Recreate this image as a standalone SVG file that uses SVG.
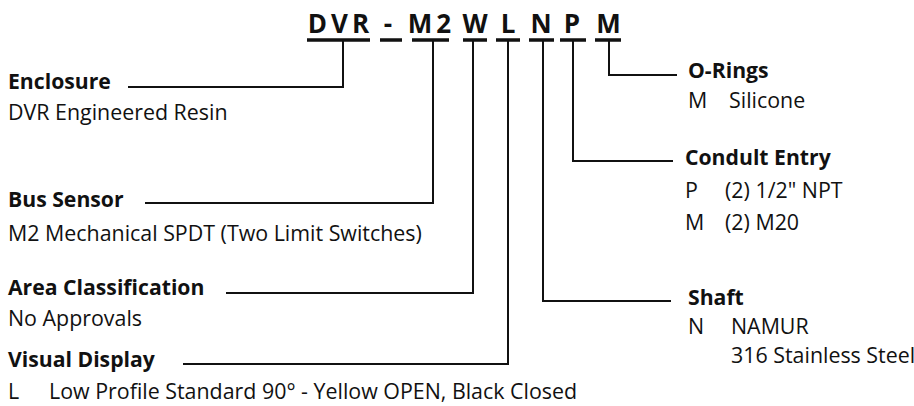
<svg xmlns="http://www.w3.org/2000/svg" width="914" height="406" viewBox="0 0 914 406">
<style>
text{font-family:"Open Sans","Noto Sans","DejaVu Sans",sans-serif;fill:#111;}
.code{font-size:26px;font-weight:700;text-anchor:middle;}
.h{font-size:21.2px;font-weight:700;}
.t{font-size:21.4px;}
.ul{stroke:#111;stroke-width:3.5;fill:none;}
.c{stroke:#111;stroke-width:2;fill:none;}
</style>
<rect width="914" height="406" fill="#fff"/>
<g id="code">
<text class="code" x="340.5" y="33" letter-spacing="4">DVR</text>
<text class="code" x="388" y="33">-</text>
<text class="code" x="431.5" y="33" letter-spacing="4">M2</text>
<text class="code" x="475" y="33">W</text>
<text class="code" x="508" y="33">L</text>
<text class="code" x="541" y="33">N</text>
<text class="code" x="572" y="33">P</text>
<text class="code" x="608.5" y="33">M</text>
<path class="ul" d="M307,40H370M380,40H402M412,40H449M463,40H487M496,40H520M529,40H554M560,40H586M595,40H621"/>
</g>
<g id="connectors">
<path class="c" d="M343,40V87H128"/>
<path class="c" d="M433,40V203H145"/>
<path class="c" d="M473,40V293H226"/>
<path class="c" d="M508,40V364H183"/>
<path class="c" d="M543,40V301H671"/>
<path class="c" d="M573,40V161H673"/>
<path class="c" d="M609,40V75H677"/>
</g>
<g id="enclosure">
<text class="h" x="8" y="89">Enclosure</text>
<text class="t" x="8" y="120">DVR Engineered Resin</text>
</g>
<g id="bus-sensor">
<text class="h" x="8" y="207">Bus Sensor</text>
<text class="t" x="8" y="241">M2 Mechanical SPDT (Two Limit Switches)</text>
</g>
<g id="area-classification">
<text class="h" x="8" y="295">Area Classification</text>
<text class="t" x="8" y="326">No Approvals</text>
</g>
<g id="visual-display">
<text class="h" x="8" y="367">Visual Display</text>
<text class="t" x="8" y="399">L</text>
<text class="t" x="49" y="399">Low Profile Standard 90° - Yellow OPEN, Black Closed</text>
</g>
<g id="o-rings">
<text class="h" x="688" y="78">O-Rings</text>
<text class="t" x="688" y="108">M</text>
<text class="t" x="729" y="108">Silicone</text>
</g>
<g id="conduit-entry">
<text class="h" x="685" y="165">Condult Entry</text>
<text class="t" x="685" y="198">P</text>
<text class="t" x="725" y="198">(2) 1/2" NPT</text>
<text class="t" x="685" y="230">M</text>
<text class="t" x="725" y="230">(2) M20</text>
</g>
<g id="shaft">
<text class="h" x="688" y="305">Shaft</text>
<text class="t" x="688" y="334">N</text>
<text class="t" x="731" y="334">NAMUR</text>
<text class="t" x="731" y="363">316 Stainless Steel</text>
</g>
</svg>
